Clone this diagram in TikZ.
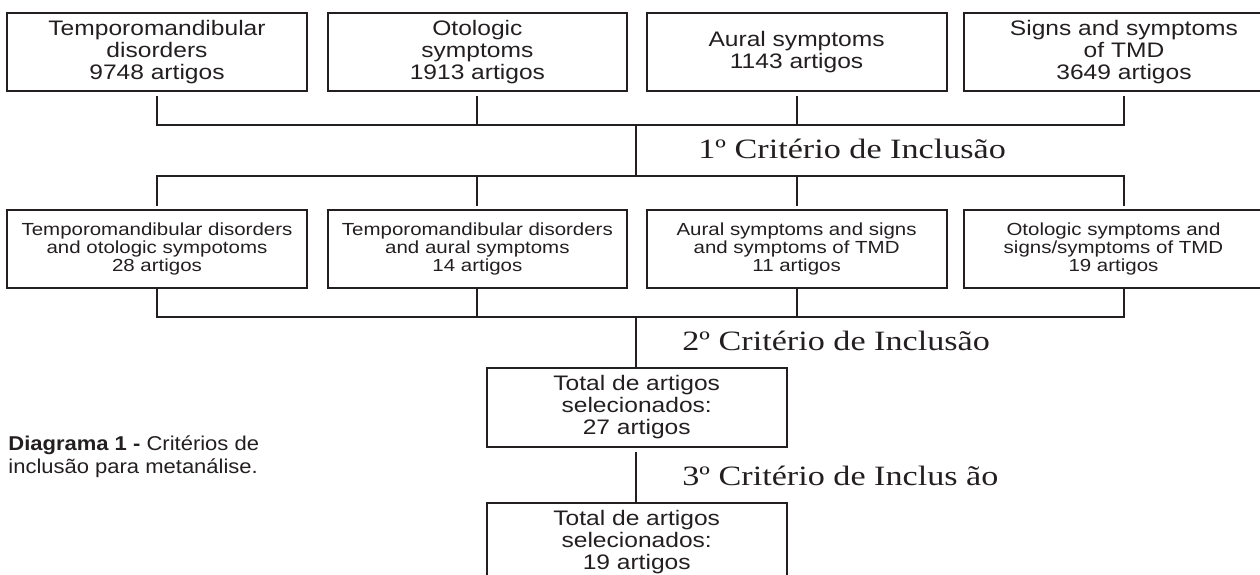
\documentclass[tikz,border=0pt]{standalone}
\usepackage{fontspec}
\setmainfont[FakeStretch=1.17]{Liberation Sans}
\newfontfamily\critfont[FakeStretch=1.22]{Liberation Serif}
\newfontfamily\capfont[FakeStretch=1.1]{Liberation Sans}
\usetikzlibrary{calc}
\definecolor{ink}{RGB}{35,31,32}
\tikzset{
  box/.style={draw=ink, line width=1pt, text=ink, align=center, inner sep=0pt,
    minimum width=150pt, minimum height=39pt},
  bigtext/.style={font=\fontsize{10.5}{11}\selectfont},
  smalltext/.style={font=\fontsize{8.75}{9}\selectfont},
  crit/.style={anchor=base west, inner sep=0pt, text=ink,
    font=\critfont\fontsize{14}{16}\selectfont},
  link/.style={draw=ink, line width=1pt},
}
\begin{document}
\begin{tikzpicture}[x=0.5pt,y=-0.5pt]

  \useasboundingbox (0,0) rectangle (1260,574);
  \clip (0,0) rectangle (1260,574);

  \node[box,bigtext] (t1) at (157,51.8) {Temporomandibular\\disorders\\9748 artigos};
  \node[box,bigtext,minimum width=149.4pt] (t2) at (477.4,51.8) {Otologic\\symptoms\\1913 artigos};
  \node[box,bigtext] (t3) at (796.6,51.8) {Aural symptoms\\1143 artigos};
  \node[box,bigtext,minimum width=160.5pt] (t4) at (1124,51.8) {Signs and symptoms\\of TMD\\3649 artigos};

  \node[box,smalltext] (r1) at (157,249) {Temporomandibular disorders\\and otologic sympotoms\\28 artigos};
  \node[box,smalltext,minimum width=149.4pt] (r2) at (477.4,249) {Temporomandibular disorders\\and aural symptoms\\14 artigos};
  \node[box,smalltext] (r3) at (796.6,249) {Aural symptoms and signs\\and symptoms of TMD\\11 artigos};
  \node[box,smalltext] (r4) at (1113.5,249) {Otologic symptoms and\\signs/symptoms of TMD\\19 artigos};

  \node[box,bigtext,minimum height=39.5pt] (b5) at (636.7,407.5) {Total de artigos\\selecionados:\\27 artigos};
  \node[box,bigtext,minimum height=39.5pt] (b6) at (636.7,542) {Total de artigos\\selecionados:\\19 artigos};

  \coordinate (h1) at (636,124.5);
  \coordinate (h2) at (636,175.8);
  \coordinate (h3) at (636,317);

  \draw[link] ($(t1.south)+(0,4)$) |- (h1 -| t4) -- ($(t4.south)+(0,4)$);
  \draw[link] ($(t2.south)+(0,4)$) -- (h1 -| t2);
  \draw[link] ($(t3.south)+(0,4)$) -- (h1 -| t3);
  \draw[link] (h1) -- (h2);

  \draw[link] ($(r1.north)+(0,-3)$) |- (h2 -| t4) -- ($(r4.north -| t4)+(0,-3)$);
  \draw[link] ($(r2.north)+(0,-3)$) -- (h2 -| r2);
  \draw[link] ($(r3.north)+(0,-3)$) -- (h2 -| r3);

  \draw[link] (r1.south) |- (h3 -| t4) -- (r4.south -| t4);
  \draw[link] (r2.south) -- (h3 -| r2);
  \draw[link] (r3.south) -- (h3 -| r3);
  \draw[link] (h3) -- (h3 |- b5.north);
  \draw[link] ($(h3 |- b5.south)+(0,3.7)$) -- (h3 |- b6.north);

  \node[crit] (c1) at (698,158) {1º Critério de Inclusão};
  \node[crit] (c2) at (682,350) {2º Critério de Inclusão};
  \node[crit] (c3) at (682,485) {3º Critério de Inclus ão};

  \node[anchor=west, align=left, inner sep=0pt, text=ink,
    font=\capfont\fontsize{10}{11.5}\selectfont] (cap) at (8,457)
    {\textbf{Diagrama 1 -} Critérios de\\inclusão para metanálise.};

\end{tikzpicture}
\end{document}
